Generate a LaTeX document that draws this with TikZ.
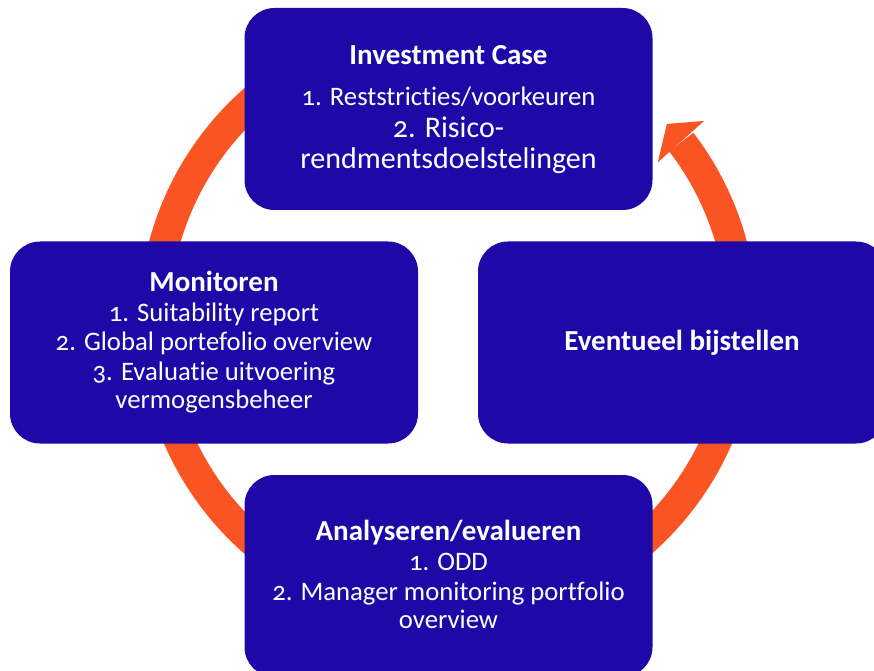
\documentclass[tikz,border=0pt]{standalone}
\usepackage{fontspec}
\setmainfont{Carlito}[Numbers=OldStyle, Ligatures=NoCommon]
\usetikzlibrary{calc}
\definecolor{boxblue}{RGB}{30,8,168}
\definecolor{ringorange}{RGB}{249,84,33}
\begin{document}
\begin{tikzpicture}[x=1pt,y=1pt,
  box/.style={fill=boxblue, rounded corners=30pt, minimum width=408pt, minimum height=202pt, inner sep=0pt},
  txt/.style={text=white, anchor=base, inner sep=0pt, font=\fontsize{26.7}{30}\selectfont},
  bigtxt/.style={txt, font=\fontsize{30}{34}\selectfont},
  ttl/.style={txt, font=\fontsize{29}{32}\selectfont\bfseries},
  ring/.style={draw=ringorange, line width=30.5pt}]
\useasboundingbox (0,0) rectangle (874,670);
\clip (0,0) rectangle (874,670);
\coordinate (c) at (448,349);
% circular arrow
\draw[ring] ($(c)+(90:294)$) arc[start angle=90, end angle=397.5, radius=294];
\fill[ringorange] ($(c)+(37.1:263)$) -- ($(c)+(42:294.5)$) -- ($(c)+(38:325)$) -- cycle;
% boxes
\node[box] (top) at (448.5,561) {};
\node[box] (left) at (214,327.5) {};
\node[box] (right) at (682,327.5) {};
\node[box] (bottom) at (448.5,94) {};
% top texts
\node[ttl] (t0) at (448.5,605) {Investment Case};
\node[txt] (t1) at (448.5,564) {1. Reststricties/voorkeuren};
\node[bigtxt] (t2) at (448.5,532.7) {2. Risico-};
\node[bigtxt] (t3) at (448.5,501.7) {rendmentsdoelstelingen};
% left texts
\node[ttl] (l0) at (214,378.3) {Monitoren};
\node[txt] (l1) at (214,348.3) {1. Suitability report};
\node[txt] (l2) at (214,319.3) {2. Global portefolio overview};
\node[txt] (l3) at (214,290) {3. Evaluatie uitvoering};
\node[txt] (l4) at (214,262) {vermogensbeheer};
% right text
\node[ttl] (r0) at (682,320) {Eventueel bijstellen};
% bottom texts
\node[ttl] (b0) at (448.5,130) {Analyseren/evalueren};
\node[txt] (b1) at (448.5,100) {1. ODD};
\node[txt] (b2) at (448.5,70) {2. Manager monitoring portfolio};
\node[txt] (b3) at (448.5,42) {overview};
\end{tikzpicture}
\end{document}
